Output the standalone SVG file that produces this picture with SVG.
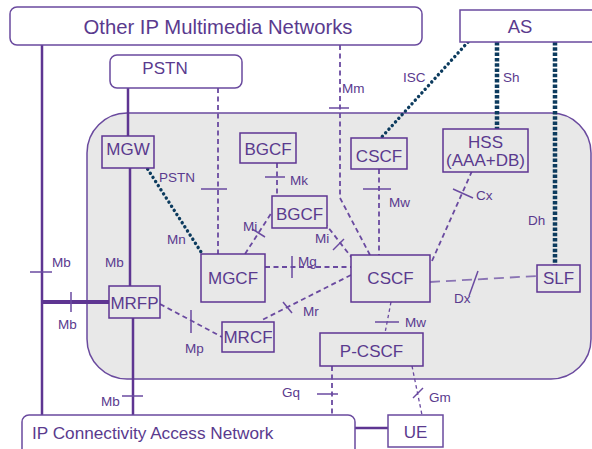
<svg xmlns="http://www.w3.org/2000/svg" width="592" height="449" viewBox="0 0 592 449">
<style>
text{font-family:"Liberation Sans",Arial,sans-serif;fill:#5a3a8e}
.big{font-size:17px;text-anchor:middle}
.lbl{font-size:13.5px}
.box{fill:#e8e8e8;stroke:#5e3592;stroke-width:1.5}
.wbox{fill:#ffffff;stroke:#6a4a9e;stroke-width:1.5}
.solid{stroke:#5e3592;stroke-width:2.5;fill:none}
.dash{stroke:#6a4aa0;stroke-width:1.8;stroke-dasharray:5 3.5;fill:none}
.thin{stroke:#6a4aa0;stroke-width:1.3;stroke-dasharray:3.5 3;fill:none}
.ldash{stroke:#8a74b4;stroke-width:1.8;stroke-dasharray:10 6;fill:none}
.dot{stroke:#0c3b5e;stroke-width:3.4;stroke-dasharray:0.1 4.8;stroke-linecap:round;fill:none}
.sq{stroke:#0c3b5e;stroke-width:4.5;stroke-dasharray:3.5 1.8;fill:none}
.tick{stroke:#6a4aa0;stroke-width:1.5;fill:none}
</style>
<rect id="core" x="87" y="113" width="504" height="266" rx="40" ry="40" fill="#e8e8e8" stroke="#6a4a9e" stroke-width="1.5"/>
<g id="connectors">
<line class="solid" x1="42" y1="45" x2="42" y2="415"/>
<line class="solid" x1="128" y1="88" x2="128" y2="136"/>
<line class="solid" x1="130" y1="168" x2="130" y2="286"/>
<line class="solid" x1="133" y1="318" x2="133" y2="415"/>
<line x1="42" y1="302" x2="109" y2="302" stroke="#5e3592" stroke-width="4"/>
<line class="solid" x1="355" y1="428" x2="388" y2="428" stroke-width="3"/>
<line class="dash" x1="218" y1="88" x2="218" y2="254"/>
<polyline class="dash" points="340,45 340,198 370,255"/>
<line class="dash" x1="277" y1="163" x2="277" y2="196"/>
<line class="dash" x1="245" y1="254" x2="272" y2="212"/>
<line class="dash" x1="324" y1="222" x2="352" y2="258"/>
<line class="dash" x1="265" y1="267" x2="351" y2="267"/>
<line class="dash" x1="379" y1="169" x2="379" y2="255"/>
<line class="dash" x1="472" y1="171" x2="432" y2="261"/>
<line class="ldash" x1="430" y1="282" x2="537" y2="276"/>
<line class="dash" x1="160" y1="304" x2="222" y2="337"/>
<line class="dash" x1="351" y1="275" x2="260" y2="321"/>
<line class="thin" x1="391" y1="302" x2="385" y2="333"/>
<line class="dash" x1="332" y1="366" x2="332" y2="415"/>
<line class="thin" x1="412" y1="366" x2="422" y2="415"/>
<line class="dot" x1="145" y1="165" x2="203" y2="255"/>
<line class="dot" x1="468" y1="42" x2="380" y2="139"/>
<line class="sq" x1="497" y1="42" x2="497" y2="129"/>
<line class="sq" x1="555" y1="42" x2="555" y2="265"/>
<line class="tick" x1="30" y1="272" x2="52" y2="272"/>
<line class="tick" x1="71" y1="292" x2="71" y2="312"/>
<line class="tick" x1="122" y1="396" x2="143" y2="396"/>
<line class="tick" x1="201" y1="189" x2="227" y2="189"/>
<line class="tick" x1="265" y1="177" x2="285" y2="177"/>
<line class="tick" x1="252" y1="229" x2="265" y2="237"/>
<line class="tick" x1="333" y1="250" x2="344" y2="239"/>
<line class="tick" x1="292" y1="256" x2="292" y2="278"/>
<line class="tick" x1="283" y1="302" x2="292" y2="313"/>
<line class="tick" x1="191" y1="310" x2="191" y2="333"/>
<line class="tick" x1="329" y1="108" x2="349" y2="108"/>
<line class="tick" x1="363" y1="189" x2="391" y2="189"/>
<line class="tick" x1="453" y1="189" x2="473" y2="198"/>
<line class="tick" x1="478" y1="271" x2="469" y2="296"/>
<line class="tick" x1="375" y1="322" x2="399" y2="322"/>
<line class="tick" x1="317" y1="394" x2="338" y2="394"/>
<line class="tick" x1="413" y1="398" x2="423" y2="388"/>
</g>
<g id="other-ip"><rect class="wbox" x="10" y="7" width="412" height="38" rx="7"/><text x="218" y="34" font-size="20.3" text-anchor="middle">Other IP Multimedia Networks</text></g>
<g id="as"><rect class="wbox" x="460" y="10" width="140" height="32"/><text x="520" y="33" font-size="18.5" text-anchor="middle">AS</text></g>
<g id="pstn"><rect class="wbox" x="110" y="55" width="132" height="33" rx="7"/><text class="big" x="165" y="74">PSTN</text></g>
<g id="mgw"><rect class="box" x="102" y="136" width="52" height="32"/><text class="big" x="128" y="155">MGW</text></g>
<g id="bgcf1"><rect class="box" x="240" y="133" width="56" height="30"/><text class="big" x="268" y="155">BGCF</text></g>
<g id="bgcf2"><rect class="box" x="272" y="196" width="55" height="32"/><text class="big" x="299.5" y="220">BGCF</text></g>
<g id="cscf-top"><rect class="box" x="351" y="138" width="56" height="31"/><text class="big" x="379" y="162">CSCF</text></g>
<g id="hss"><rect class="box" x="443" y="129" width="85" height="43"/><text class="big" x="485.5" y="148">HSS</text><text class="big" x="485.5" y="166">(AAA+DB)</text></g>
<g id="mgcf"><rect class="box" x="201" y="254" width="64" height="48"/><text class="big" x="233" y="284">MGCF</text></g>
<g id="cscf"><rect class="box" x="351" y="255" width="79" height="47"/><text class="big" x="390.5" y="284">CSCF</text></g>
<g id="slf"><rect class="box" x="537" y="265" width="43" height="27"/><text class="big" x="558.5" y="284">SLF</text></g>
<g id="mrfp"><rect class="box" x="109" y="286" width="51" height="32"/><text class="big" x="134.5" y="309" font-size="16.5">MRFP</text></g>
<g id="mrcf"><rect class="box" x="222" y="322" width="52" height="30"/><text class="big" x="248" y="343" font-size="16.5">MRCF</text></g>
<g id="pcscf"><rect class="box" x="320" y="333" width="103" height="33"/><text class="big" x="371.5" y="357">P-CSCF</text></g>
<g id="ue"><rect class="wbox" x="388" y="415" width="55" height="32"/><text class="big" x="415.5" y="438" font-size="16.5">UE</text></g>
<g id="ipcan"><rect class="wbox" x="22" y="415" width="333" height="45" rx="7"/><text x="32" y="439" font-size="17.2">IP Connectivity Access Network</text></g>
<g id="labels">
<text class="lbl" x="52" y="267">Mb</text>
<text class="lbl" x="105" y="267">Mb</text>
<text class="lbl" x="58" y="329">Mb</text>
<text class="lbl" x="101" y="406">Mb</text>
<text class="lbl" x="159" y="182">PSTN</text>
<text class="lbl" x="167" y="244">Mn</text>
<text class="lbl" x="290" y="185">Mk</text>
<text class="lbl" x="243" y="231">Mi</text>
<text class="lbl" x="315" y="243">Mi</text>
<text class="lbl" x="298" y="266">Mg</text>
<text class="lbl" x="303" y="316">Mr</text>
<text class="lbl" x="185" y="353">Mp</text>
<text class="lbl" x="389" y="207">Mw</text>
<text class="lbl" x="476" y="200">Cx</text>
<text class="lbl" x="528" y="225">Dh</text>
<text class="lbl" x="454" y="303">Dx</text>
<text class="lbl" x="405" y="327">Mw</text>
<text class="lbl" x="282" y="397">Gq</text>
<text class="lbl" x="429" y="402">Gm</text>
<text class="lbl" x="403" y="82">ISC</text>
<text class="lbl" x="503" y="82">Sh</text>
<text class="lbl" x="342" y="93">Mm</text>
</g>
</svg>
